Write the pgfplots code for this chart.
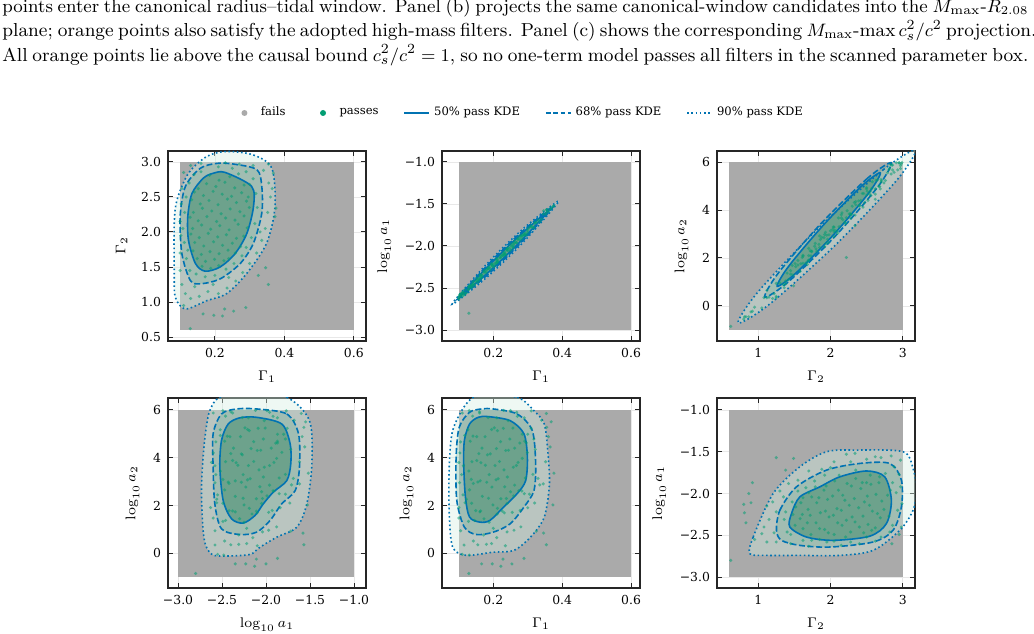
\documentclass[border=0pt]{standalone}
\usepackage{fontspec}
\usepackage{pgfplots}
\usepackage{pgfplotstable}
\pgfplotsset{compat=1.18}

\newfontfamily\plotfont{DejaVu Serif}
\newcommand\tickfont{\plotfont\fontsize{6.2}{7}\selectfont}
\newcommand\legfont{\plotfont\fontsize{5.8}{7}\selectfont}
\newcommand\labfont{\fontsize{7}{8}\selectfont}

\definecolor{failgrey}{HTML}{AAAAAA}
\definecolor{passgreen}{HTML}{029E73}
\definecolor{kdeblue}{HTML}{0173B2}
\definecolor{kdeninety}{HTML}{D4EEE2}
\definecolor{kdesixtyeight}{HTML}{5AA98A}
\definecolor{kdefifty}{HTML}{1F7A55}

% accepted (passing) parameter sets: Gamma1, Gamma2, log10 a1, log10 a2
\pgfplotstableread{
g1 g2 la1 la2
0.185 2.81 -2.27 5.68
0.212 2.74 -2.19 5.13
0.243 2.79 -2.02 5.55
0.268 2.83 -1.96 5.90
0.152 2.62 -2.41 4.88
0.176 2.69 -2.29 4.88
0.203 2.65 -2.24 5.25
0.229 2.71 -2.09 5.23
0.257 2.63 -2.01 5.24
0.284 2.67 -1.87 4.98
0.141 2.57 -2.44 4.90
0.167 2.52 -2.37 4.40
0.195 2.58 -2.21 5.18
0.221 2.54 -2.14 4.67
0.248 2.51 -2.03 4.78
0.277 2.56 -1.89 4.61
0.296 2.50 -1.87 4.62
0.133 2.46 -2.47 4.69
0.158 2.40 -2.40 4.17
0.183 2.45 -2.27 4.12
0.209 2.39 -2.17 4.38
0.236 2.47 -2.10 4.30
0.262 2.42 -1.94 4.40
0.291 2.44 -1.87 4.69
0.138 2.28 -2.46 3.83
0.164 2.34 -2.34 3.79
0.191 2.30 -2.28 4.16
0.218 2.26 -2.14 3.84
0.244 2.33 -2.06 4.31
0.272 2.29 -1.91 3.80
0.299 2.35 -1.82 4.22
0.129 2.21 -2.52 3.44
0.152 2.16 -2.38 3.88
0.177 2.22 -2.32 3.68
0.205 2.15 -2.20 3.67
0.231 2.20 -2.08 3.49
0.258 2.17 -2.02 3.60
0.284 2.23 -1.88 3.97
0.136 2.05 -2.49 3.09
0.162 2.10 -2.35 3.03
0.188 2.04 -2.26 3.29
0.214 2.09 -2.18 3.12
0.241 2.03 -2.03 3.19
0.267 2.11 -1.96 3.67
0.293 2.06 -1.85 3.15
0.131 1.97 -2.47 2.65
0.155 1.92 -2.43 2.98
0.181 1.98 -2.28 2.97
0.208 1.93 -2.21 3.07
0.233 1.96 -2.07 2.78
0.262 1.91 -1.96 2.85
0.283 1.94 -1.91 2.60
0.142 1.85 -2.42 2.92
0.168 1.80 -2.35 2.38
0.196 1.86 -2.23 2.77
0.222 1.81 -2.11 2.28
0.250 1.84 -2.05 2.57
0.274 1.79 -1.92 2.61
0.137 1.73 -2.49 2.09
0.161 1.68 -2.35 1.73
0.186 1.72 -2.26 2.30
0.212 1.69 -2.19 1.88
0.238 1.74 -2.04 2.29
0.259 1.70 -1.99 2.40
0.149 1.62 -2.42 1.78
0.173 1.58 -2.30 1.44
0.199 1.61 -2.25 2.02
0.226 1.59 -2.11 1.76
0.163 1.51 -2.38 1.77
0.188 1.48 -2.25 1.29
0.211 1.52 -2.16 1.64
0.210 2.93 -2.20 5.67
0.250 2.91 -1.99 5.97
0.290 2.86 -1.87 5.67
0.160 2.86 -2.38 5.87
0.310 2.76 -1.76 5.23
0.318 2.55 -1.78 4.78
0.322 2.35 -1.72 4.35
0.315 2.12 -1.78 3.30
0.305 1.92 -1.78 2.47
0.290 1.78 -1.85 2.49
0.278 1.66 -1.93 1.79
0.255 1.55 -1.97 1.71
0.232 1.47 -2.10 1.69
0.200 1.38 -2.22 1.04
0.172 1.36 -2.31 0.76
0.146 1.40 -2.46 1.37
0.128 1.45 -2.49 1.33
0.118 1.62 -2.56 2.11
0.112 1.85 -2.55 2.44
0.108 2.05 -2.57 3.29
0.113 2.28 -2.58 3.66
0.117 2.50 -2.52 4.93
0.126 2.70 -2.52 5.17
0.140 2.82 -2.46 5.74
0.300 2.68 -1.80 4.98
0.122 1.74 -2.56 2.26
0.240 1.62 -2.05 2.08
0.230 2.99 -2.12 5.98
0.270 2.97 -1.92 5.73
0.310 2.95 -1.77 5.96
0.340 2.88 -1.68 5.57
0.355 2.70 -1.57 5.27
0.360 2.50 -1.59 4.88
0.352 2.28 -1.62 3.83
0.345 2.05 -1.62 2.90
0.335 1.88 -1.71 2.86
0.320 1.70 -1.73 2.10
0.300 1.55 -1.84 1.90
0.280 1.42 -1.88 1.10
0.260 1.30 -1.97 0.96
0.235 1.20 -2.10 0.31
0.210 1.12 -2.15 0.65
0.180 1.15 -2.31 0.37
0.155 1.08 -2.40 0.35
0.130 1.05 -2.48 -0.08
0.115 1.12 -2.58 0.34
0.105 1.25 -2.58 0.94
0.142 1.22 -2.47 0.51
0.195 1.25 -2.22 0.40
0.100 1.45 -2.60 1.47
0.100 1.70 -2.63 1.91
0.102 1.95 -2.58 2.95
0.100 2.15 -2.62 3.80
0.103 2.40 -2.60 4.20
0.105 2.62 -2.57 4.66
0.110 2.85 -2.60 5.87
0.130 2.95 -2.49 5.97
0.160 2.98 -2.40 5.92
0.240 1.35 -2.04 0.89
0.330 2.00 -1.69 3.13
0.346 1.49 -1.58 0.84
0.325 1.38 -1.72 0.92
0.354 1.25 -1.57 0.35
0.289 0.92 -1.87 -0.22
0.254 0.87 -2.00 -0.45
0.228 0.90 -2.11 -0.25
0.222 0.80 -2.13 -0.55
0.197 0.81 -2.23 -0.45
0.166 0.83 -2.35 -0.45
0.129 0.62 -2.80 -0.85
0.376 2.34 -1.52 3.35
0.368 2.84 -1.55 5.50
0.373 2.22 -1.53 2.02
0.354 2.97 -1.60 5.85
0.365 2.62 -1.56 4.45
0.110 0.95 -2.55 -0.05
}\passdata

% KDE contours of the passing sample (50/68/90 per cent), one table per panel and level
% (a) Gamma1 - Gamma2
\pgfplotstableread{
x y
0.230 2.85
0.306 2.65
0.311 2.36
0.292 1.98
0.258 1.69
0.215 1.50
0.172 1.44
0.144 1.55
0.124 1.88
0.122 2.22
0.134 2.55
0.167 2.77
0.196 2.84
}\cAfifty
\pgfplotstableread{
x y
0.254 2.97
0.321 2.89
0.335 2.65
0.335 2.27
0.311 1.84
0.273 1.55
0.215 1.33
0.158 1.26
0.129 1.31
0.105 1.69
0.100 2.22
0.115 2.65
0.158 2.91
0.206 2.98
}\cAsixtyeight
\pgfplotstableread{
x y
0.234 3.15
0.311 3.10
0.364 2.91
0.373 2.36
0.349 1.84
0.292 1.41
0.234 1.12
0.177 1.02
0.115 0.90
0.086 1.07
0.083 1.45
0.083 2.12
0.091 2.46
0.124 2.84
0.177 3.08
}\cAninety
% (b) Gamma1 - log10 a1
\pgfplotstableread{
x y
0.110 -2.574
0.193 -2.206
0.277 -1.873
0.360 -1.584
0.277 -1.953
0.193 -2.286
}\cBfifty
\pgfplotstableread{
x y
0.095 -2.634
0.188 -2.206
0.282 -1.833
0.375 -1.525
0.282 -1.953
0.188 -2.326
}\cBsixtyeight
\pgfplotstableread{
x y
0.080 -2.693
0.183 -2.205
0.287 -1.794
0.390 -1.466
0.287 -1.954
0.183 -2.365
}\cBninety
% (c) Gamma2 - log10 a2
\pgfplotstableread{
x y
2.690 5.550
2.430 4.996
1.905 3.381
1.421 1.652
1.263 0.820
1.523 1.374
2.048 2.989
2.532 4.718
}\cCfifty
\pgfplotstableread{
x y
2.843 5.970
2.518 5.338
1.870 3.438
1.280 1.381
1.092 0.373
1.417 1.005
2.065 2.906
2.655 4.962
}\cCsixtyeight
\pgfplotstableread{
x y
3.180 6.500
2.733 5.682
1.829 3.232
0.997 0.584
0.724 -0.710
1.171 0.108
2.075 2.559
2.907 5.206
}\cCninety
% (d) log10 a1 - log10 a2
\pgfplotstableread{
x y
-2.106 5.69
-1.821 5.41
-1.726 4.58
-1.719 3.74
-1.764 3.04
-1.916 2.56
-2.030 2.07
-2.125 1.58
-2.259 1.26
-2.392 1.44
-2.487 2.21
-2.525 3.60
-2.506 4.72
-2.430 5.41
-2.297 5.67
}\cDfifty
\pgfplotstableread{
x y
-2.106 6.04
-1.764 5.83
-1.631 5.00
-1.620 3.60
-1.669 2.62
-1.821 2.07
-1.954 1.37
-2.106 0.88
-2.297 0.78
-2.506 1.02
-2.582 2.07
-2.601 3.60
-2.601 5.00
-2.506 5.83
-2.335 6.04
}\cDsixtyeight
\pgfplotstableread{
x y
-2.180 6.67
-1.764 6.53
-1.506 5.55
-1.479 3.74
-1.536 2.07
-1.650 1.09
-1.878 0.67
-2.068 0.25
-2.163 -0.03
-2.297 -0.10
-2.582 -0.10
-2.677 0.25
-2.715 0.95
-2.734 2.62
-2.715 4.02
-2.684 5.14
-2.639 5.97
-2.525 6.53
}\cDninety
% (e) Gamma1 - log10 a2
\pgfplotstableread{
x y
0.185 5.72
0.249 5.55
0.289 5.00
0.299 4.02
0.294 3.04
0.269 2.49
0.230 1.93
0.190 1.37
0.161 1.30
0.131 1.51
0.119 2.35
0.114 3.74
0.116 4.72
0.131 5.41
0.156 5.69
}\cEfifty
\pgfplotstableread{
x y
0.200 6.04
0.269 5.83
0.313 5.14
0.323 3.74
0.318 2.62
0.289 1.93
0.249 1.23
0.200 0.88
0.151 0.78
0.116 1.09
0.094 2.21
0.092 4.02
0.101 5.27
0.131 5.90
0.166 6.04
}\cEsixtyeight
\pgfplotstableread{
x y
0.161 6.60
0.269 6.53
0.318 5.97
0.348 5.41
0.358 4.30
0.363 2.90
0.348 1.51
0.308 0.67
0.259 0.11
0.200 0.04
0.121 -0.09
0.082 0.25
0.072 1.65
0.072 3.60
0.082 5.14
0.121 6.25
}\cEninety
% (f) Gamma2 - log10 a1
\pgfplotstableread{
x y
1.461 -2.24
1.576 -2.04
1.853 -1.92
2.129 -1.80
2.498 -1.73
2.751 -1.80
2.843 -2.08
2.774 -2.36
2.544 -2.51
2.037 -2.56
1.668 -2.52
1.438 -2.40
}\cFfifty
\pgfplotstableread{
x y
1.253 -2.44
1.300 -2.20
1.530 -1.92
1.945 -1.72
2.406 -1.64
2.820 -1.64
2.982 -1.84
2.982 -2.16
2.866 -2.44
2.590 -2.58
1.991 -2.64
1.576 -2.62
1.323 -2.56
}\cFsixtyeight
\pgfplotstableread{
x y
0.885 -2.72
0.931 -2.52
1.207 -2.00
1.576 -1.68
1.945 -1.50
2.359 -1.48
3.005 -1.50
3.143 -1.70
3.190 -1.96
3.143 -2.20
2.959 -2.44
2.590 -2.68
2.129 -2.74
1.576 -2.74
1.115 -2.74
}\cFninety

\pgfplotsset{
  panel/.style={
    scale only axis, width=99pt, height=95pt,
    axis line style={line width=0.6pt, black!85},
    tick align=inside, major tick length=2.5pt,
    tick style={line width=0.5pt, black!85},
    tick label style={font=\tickfont},
    label style={font=\labfont},
    grid=major, major grid style={line width=0.35pt, black!9},
  },
  fails/.style={draw=none, fill=failgrey, forget plot},
  passes/.style={only marks, mark=*, mark size=0.85pt, color=passgreen,
    mark options={draw=passgreen, fill=passgreen, draw opacity=0, fill opacity=0.55},
    forget plot},
  band90/.style={draw=none, fill=kdeninety, fill opacity=0.4, smooth cycle, forget plot},
  band68/.style={draw=none, fill=kdesixtyeight, fill opacity=0.25, smooth cycle, forget plot},
  band50/.style={draw=none, fill=kdefifty, fill opacity=0.4, smooth cycle, forget plot},
  kde50/.style={kdeblue, line width=0.8pt, smooth cycle, forget plot},
  kde68/.style={kdeblue, line width=0.8pt, dash pattern=on 3pt off 1.3pt, smooth cycle, forget plot},
  kde90/.style={kdeblue, line width=0.8pt, dash pattern=on 0.8pt off 1.3pt, smooth cycle, forget plot},
}

% one panel: grey box of failing models, KDE bands, passing points, contour lines
% #1-#4 box limits, #5/#6 data columns, #7/#8/#9 the 90/68/50 per cent contours
\newcommand\panelbody[9]{%
  \addplot[fails] coordinates {(#1,#3) (#2,#3) (#2,#4) (#1,#4)} -- cycle;
  \addplot[band90] table {#7};
  \addplot[band68] table {#8};
  \addplot[band50] table {#9};
  \addplot[passes] table[x=#5, y=#6] {\passdata};
  \addplot[kde90] table {#7};
  \addplot[kde68] table {#8};
  \addplot[kde50] table {#9};
}

% one justified caption line: #1 baseline height, #2 font size, #3 text
\newcommand\capline[3]{\node[anchor=base west, inner sep=0pt] at (1pt,#1) {\fontsize{#2}{11}\selectfont\makebox[513pt][s]{#3}};}

\begin{document}
\begin{tikzpicture}
\path[use as bounding box] (0,0) rectangle (517pt,316.5pt);

\capline{310.25pt}{9.2}{points enter the canonical radius--tidal window. Panel (b) projects the same canonical-window candidates into the $M_{\max}$-$R_{2.08}$}
\capline{298pt}{9.4}{plane; orange points also satisfy the adopted high-mass filters. Panel (c) shows the corresponding $M_{\max}$-max\,$c_s^2/c^2$ projection.}
\capline{285.75pt}{9.4}{All orange points lie above the causal bound $c_s^2/c^2=1$, so no one-term model passes all filters in the scanned parameter box.}

% (a)
\begin{axis}[panel, at={(84pt,146pt)}, anchor=south west,
  xmin=0.065, xmax=0.635, ymin=0.443, ymax=3.157,
  xtick={0.2,0.4,0.6}, xticklabels={0.2,0.4,0.6},
  ytick={0.5,1,1.5,2,2.5,3}, yticklabels={0.5,1.0,1.5,2.0,2.5,3.0},
  xlabel={$\Gamma_1$}, ylabel={$\Gamma_2$},
  legend columns=5,
  legend style={draw=none, fill=none, at={(1.775,1.2)}, anchor=center,
    font=\legfont, /tikz/every even column/.append style={column sep=10.5pt}},
  legend cell align=left]
  \addlegendimage{legend image code/.code={\path[draw=none, fill=none] (0pt,0pt) -- (12.5pt,0pt); \fill[failgrey, draw=none] (6.25pt,0pt) circle (1.5pt);}}
  \addlegendentry{fails}
  \addlegendimage{legend image code/.code={\path[draw=none, fill=none] (0pt,0pt) -- (12.5pt,0pt); \fill[passgreen, draw=none] (6.25pt,0pt) circle (1.5pt);}}
  \addlegendentry{passes}
  \addlegendimage{legend image code/.code={\draw[kdeblue, line width=0.8pt] (0pt,0pt) -- (12.5pt,0pt);}}
  \addlegendentry{50\% pass KDE}
  \addlegendimage{legend image code/.code={\draw[kdeblue, line width=0.8pt, dash pattern=on 2.4pt off 1.3pt] (0pt,0pt) -- (12.5pt,0pt);}}
  \addlegendentry{68\% pass KDE}
  \addlegendimage{legend image code/.code={\draw[kdeblue, line width=0.8pt, dash pattern=on 0.8pt off 1.3pt] (0pt,0pt) -- (12.5pt,0pt);}}
  \addlegendentry{90\% pass KDE}
  \panelbody{0.1}{0.6}{0.6}{3.0}{g1}{g2}{\cAninety}{\cAsixtyeight}{\cAfifty}
\end{axis}

% (b)
\begin{axis}[panel, at={(221pt,146pt)}, anchor=south west,
  xmin=0.051, xmax=0.626, ymin=-3.13, ymax=-0.87,
  xtick={0.2,0.4,0.6}, xticklabels={0.2,0.4,0.6},
  ytick={-3,-2.5,-2,-1.5,-1}, yticklabels={−3.0,−2.5,−2.0,−1.5,−1.0},
  xlabel={$\Gamma_1$}, ylabel={$\log_{10} a_1$}]
  \panelbody{0.1}{0.6}{-3}{-1}{g1}{la1}{\cBninety}{\cBsixtyeight}{\cBfifty}
\end{axis}

% (c)
\begin{axis}[panel, at={(358.5pt,146pt)}, anchor=south west,
  xmin=0.43, xmax=3.17, ymin=-1.46, ymax=6.46,
  xtick={1,2,3}, xticklabels={1,2,3},
  ytick={0,2,4,6}, yticklabels={0,2,4,6},
  xlabel={$\Gamma_2$}, ylabel={$\log_{10} a_2$}]
  \panelbody{0.6}{3.0}{-1}{6}{g2}{la2}{\cCninety}{\cCsixtyeight}{\cCfifty}
\end{axis}

% (d)
\begin{axis}[panel, at={(84pt,22.5pt)}, anchor=south west,
  xmin=-3.114, xmax=-0.864, ymin=-1.46, ymax=6.5,
  xtick={-3,-2.5,-2,-1.5,-1}, xticklabels={−3.0,−2.5,−2.0,−1.5,−1.0},
  ytick={0,2,4,6}, yticklabels={0,2,4,6},
  xlabel={$\log_{10} a_1$}, ylabel={$\log_{10} a_2$}]
  \panelbody{-3}{-1}{-1}{6}{la1}{la2}{\cDninety}{\cDsixtyeight}{\cDfifty}
\end{axis}

% (e)
\begin{axis}[panel, at={(221pt,22.5pt)}, anchor=south west,
  xmin=0.051, xmax=0.626, ymin=-1.46, ymax=6.5,
  xtick={0.2,0.4,0.6}, xticklabels={0.2,0.4,0.6},
  ytick={0,2,4,6}, yticklabels={0,2,4,6},
  xlabel={$\Gamma_1$}, ylabel={$\log_{10} a_2$}]
  \panelbody{0.1}{0.6}{-1}{6}{g1}{la2}{\cEninety}{\cEsixtyeight}{\cEfifty}
\end{axis}

% (f)
\begin{axis}[panel, at={(358.5pt,22.5pt)}, anchor=south west,
  xmin=0.43, xmax=3.17, ymin=-3.13, ymax=-0.857,
  xtick={1,2,3}, xticklabels={1,2,3},
  ytick={-3,-2.5,-2,-1.5,-1}, yticklabels={−3.0,−2.5,−2.0,−1.5,−1.0},
  xlabel={$\Gamma_2$}, ylabel={$\log_{10} a_1$}]
  \panelbody{0.6}{3.0}{-3}{-1}{g2}{la1}{\cFninety}{\cFsixtyeight}{\cFfifty}
\end{axis}
\end{tikzpicture}
\end{document}
